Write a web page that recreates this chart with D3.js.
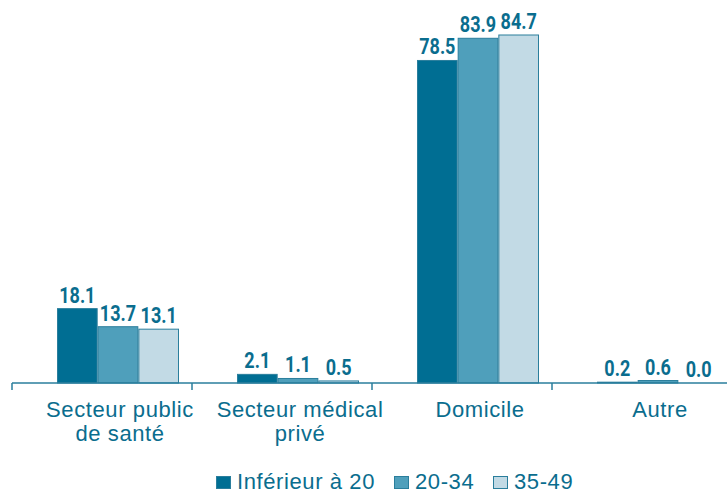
<!DOCTYPE html>
<html>
<head>
<meta charset="utf-8">
<script src="https://cdn.jsdelivr.net/npm/d3@7"></script>
<style>
  body { margin: 0; background: #fff; }
  svg { display: block; }
  .value { font-family: Roboto, "Liberation Sans", sans-serif; font-weight: bold; font-size: 22px; }
  .cat, .legend { font-family: "Liberation Sans", Arial, sans-serif; font-size: 22px; letter-spacing: 0.6px; }
</style>
</head>
<body>
<svg id="chart" width="727" height="493"></svg>
<script>
// Data
const categories = [["Secteur public", "de santé"], ["Secteur médical", "privé"], ["Domicile"], ["Autre"]];
const series = ["Inférieur à 20", "20-34", "35-49"];
const values = [
    [18.1, 13.7, 13.1],
    [2.1, 1.1, 0.5],
    [78.5, 83.9, 84.7],
    [0.2, 0.6, 0.0]
];

const textColor = "#0a6d8e";
const lineColor = "#2a7e9c";
const colors = ["#006e93", "#4f9fbb", "#c2dae5"];

const svg = d3.select("#chart");
const baseline = 383;

const catKeys = categories.map(c => c.join(" "));

// Band per category, then one band per series inside it
const x0 = d3.scaleBand().domain(catKeys).range([28, 748]);
const x1 = d3.scaleBand().domain(series).range([29, 151]);
const y = d3.scaleLinear().domain([0, 84.7]).range([baseline, 35]);

// Bars and value labels
const groups = svg.selectAll("g.group")
    .data(values)
    .join("g")
    .attr("class", "group")
    .attr("transform", (d, i) => `translate(${x0(catKeys[i])},0)`);

groups.selectAll("rect")
    .data(d => d.map((v, j) => ({ v, s: series[j], j })))
    .join("rect")
    .attr("x", d => x1(d.s) + 0.5)
    .attr("y", d => y(d.v))
    .attr("width", x1.bandwidth() - 1)
    .attr("height", d => baseline - y(d.v))
    .attr("fill", d => colors[d.j])
    .attr("stroke", lineColor)
    .attr("stroke-width", 1);

// condensed look: squeeze the bold digits horizontally
groups.selectAll("text.value")
    .data(d => d.map((v, j) => ({ v, s: series[j] })))
    .join("text")
    .attr("class", "value")
    .attr("transform", d => `translate(${x1(d.s) + x1.bandwidth() / 2},${y(d.v) - 6}) scale(0.82,1)`)
    .attr("text-anchor", "middle")
    .attr("fill", textColor)
    .text(d => d.v.toFixed(1));

// Axis line and ticks
svg.append("line")
    .attr("x1", 12).attr("x2", 727)
    .attr("y1", baseline).attr("y2", baseline)
    .attr("stroke", lineColor)
    .attr("stroke-width", 1.5);

svg.selectAll("line.tick")
    .data(catKeys)
    .join("line")
    .attr("class", "tick")
    .attr("x1", d => x0(d) - 16).attr("x2", d => x0(d) - 16)
    .attr("y1", baseline).attr("y2", baseline + 7)
    .attr("stroke", lineColor)
    .attr("stroke-width", 1.5);

// Category labels
svg.selectAll("text.cat")
    .data(categories)
    .join("text")
    .attr("class", "cat")
    .attr("text-anchor", "middle")
    .attr("fill", textColor)
    .attr("transform", (d, i) => `translate(${x0(catKeys[i]) + x0.bandwidth() / 2 + 2},417)`)
    .selectAll("tspan")
    .data(d => d)
    .join("tspan")
    .attr("x", 0)
    .attr("dy", (d, i) => i === 0 ? 0 : 24)
    .text(d => d);

// Legend
const legendX = [216, 394, 493];
const legend = svg.selectAll("g.legend")
    .data(series)
    .join("g")
    .attr("class", "legend")
    .attr("transform", (d, i) => `translate(${legendX[i]},476)`);

legend.append("rect")
    .attr("x", 0.5).attr("y", 0.5)
    .attr("width", 14).attr("height", 12)
    .attr("fill", (d, i) => colors[i])
    .attr("stroke", lineColor)
    .attr("stroke-width", 1);

legend.append("text")
    .attr("x", 21)
    .attr("y", 12.5)
    .attr("fill", textColor)
    .text(d => d);
</script>
</body>
</html>
